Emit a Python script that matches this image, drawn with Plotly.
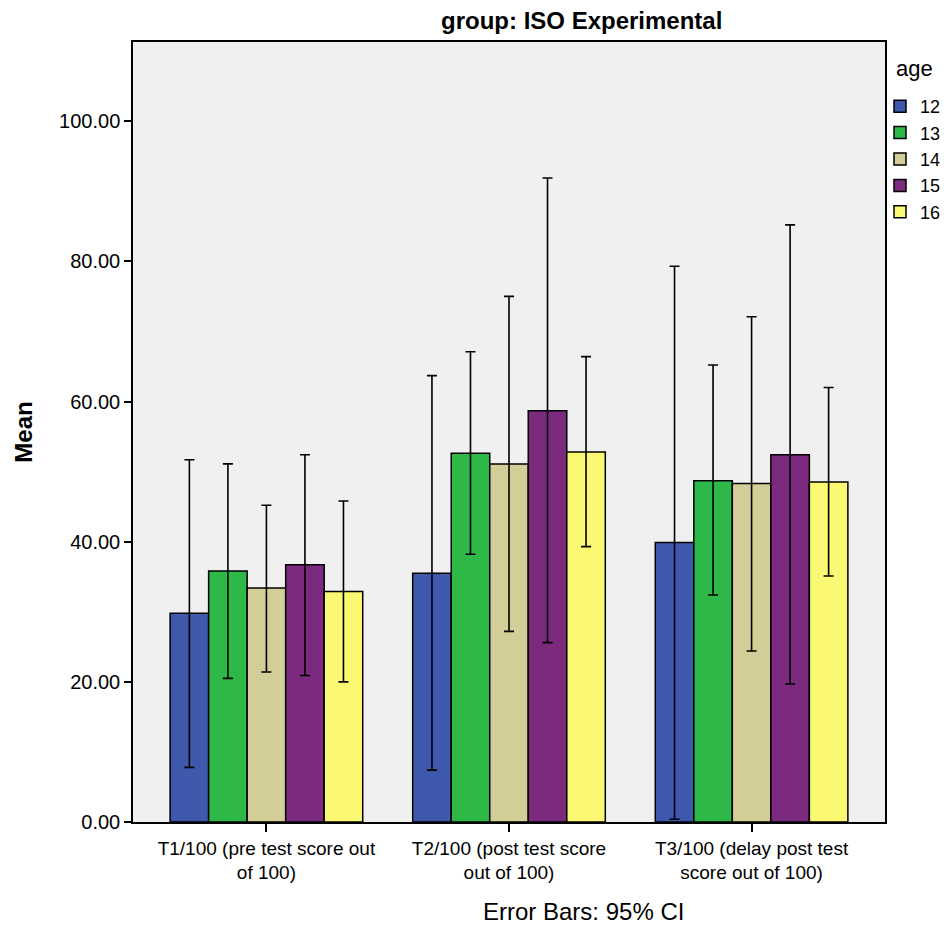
import plotly.graph_objects as go

categories = ["T1/100 (pre test score out<br>of 100)",
              "T2/100 (post test score<br>out of 100)",
              "T3/100 (delay post test<br>score out of 100)"]
ages = ["12", "13", "14", "15", "16"]
colors = ["#3E58AC", "#2EB848", "#D3CE97", "#7B2A7D", "#FBF873"]

means = {
    "12": [29.8, 35.5, 39.9],
    "13": [35.8, 52.6, 48.7],
    "14": [33.4, 51.1, 48.3],
    "15": [36.7, 58.7, 52.4],
    "16": [32.9, 52.8, 48.5],
}
ci_upper = {
    "12": [51.7, 63.7, 79.3],
    "13": [51.1, 67.1, 65.2],
    "14": [45.2, 75.0, 72.1],
    "15": [52.4, 91.9, 85.2],
    "16": [45.8, 66.4, 62.0],
}
ci_lower = {
    "12": [7.8, 7.4, 0.4],
    "13": [20.5, 38.2, 32.4],
    "14": [21.4, 27.2, 24.4],
    "15": [20.9, 25.6, 19.7],
    "16": [20.0, 39.3, 35.1],
}

y_ticks = [0, 20, 40, 60, 80, 100]
y_tick_labels = ["0.00", "20.00", "40.00", "60.00", "80.00", "100.00"]

FONT = "Liberation Sans, Arial, sans-serif"

fig = go.Figure()
for age, col in zip(ages, colors):
    m = means[age]
    up = [u - v for u, v in zip(ci_upper[age], m)]
    lo = [v - l for v, l in zip(m, ci_lower[age])]
    fig.add_trace(go.Bar(
        name=age, x=categories, y=m,
        marker=dict(color=col, line=dict(color="black", width=1.5)),
        error_y=dict(type="data", array=up, arrayminus=lo, visible=True,
                     color="black", thickness=1.6, width=5),
    ))

fig.update_layout(
    width=946, height=927,
    barmode="group", bargap=0.206, bargroupgap=0,
    paper_bgcolor="white", plot_bgcolor="#F0F0F0",
    margin=dict(l=133, r=61, t=42, b=105, autoexpand=False),
    font=dict(family=FONT, size=18, color="black"),
    showlegend=True,
    legend=dict(x=1.004, y=0.941, xanchor="left", yanchor="top",
                font=dict(size=18), bgcolor="rgba(0,0,0,0)",
                tracegroupgap=0, itemwidth=30, indentation=-8),
    xaxis=dict(range=[-0.55, 2.55], showline=True, linecolor="black", linewidth=1.5,
               mirror=True, ticks="outside", ticklen=8, tickwidth=1.5, tickcolor="black",
               tickfont=dict(size=19), showgrid=False),
    yaxis=dict(range=[0, 111.3], tickvals=y_ticks, ticktext=y_tick_labels,
               showline=True, linecolor="black", linewidth=1.5, mirror=True,
               ticks="outside", ticklen=7, tickwidth=1.5, tickcolor="black",
               tickfont=dict(size=20), showgrid=False, zeroline=False,
               title=dict(text="<b>Mean</b>", font=dict(size=24), standoff=20)),
    annotations=[
        dict(text="<b>group: ISO Experimental</b>", x=0.597, y=1.028,
             xref="paper", yref="paper", showarrow=False, font=dict(size=24),
             xanchor="center", yanchor="middle"),
        dict(text="Error Bars: 95% CI", x=0.599, y=-0.115,
             xref="paper", yref="paper", showarrow=False, font=dict(size=24),
             xanchor="center", yanchor="middle"),
        dict(text="age", x=1.012, y=(822 - 68) / 780,
             xref="paper", yref="paper", showarrow=False, font=dict(size=22),
             xanchor="left", yanchor="middle"),
    ],
)

fig.write_html("out.html")
